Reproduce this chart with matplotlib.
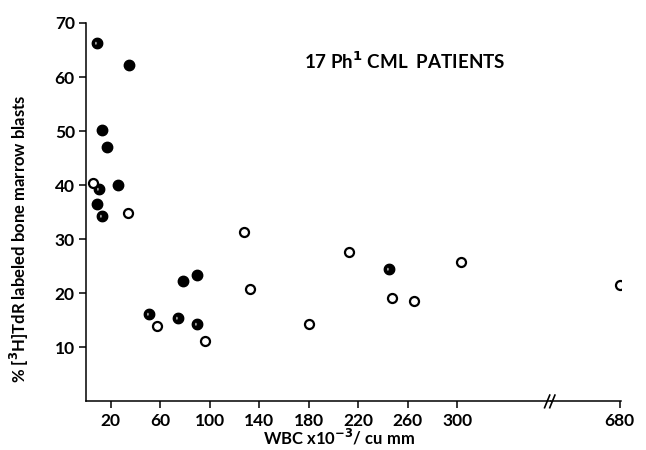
import numpy as np
import matplotlib
matplotlib.use("Agg")
import matplotlib.pyplot as plt
from matplotlib.path import Path

plt.rcParams['font.family'] = ['Lato', 'DejaVu Sans']
plt.rcParams['font.weight'] = 'bold'

# values (WBC x10^-3/cu mm, % labeled blasts)
filled_x = [34.8, 13.3, 16.8, 26.2, 9.2, 78.7, 90.0]
filled_y = [62.2, 50.2, 47.1, 40.0, 36.5, 22.3, 23.3]

half_x = [8.7, 10.6, 12.7, 51.3, 74.7, 90.0, 245.0]
half_y = [66.3, 39.2, 34.3, 16.2, 15.5, 14.4, 24.4]

open_x = [5.7, 34.0, 57.7, 96.0, 127.5, 132.3, 180.3, 212.6, 247.6, 265.4, 302.8, 680.0]
open_y = [40.4, 34.9, 14.0, 11.2, 31.3, 20.7, 14.3, 27.7, 19.2, 18.6, 25.7, 21.5]

xticks_left = [20, 60, 100, 140, 180, 220, 260, 300]
xticks_right = [680]
yticks = [10, 20, 30, 40, 50, 60, 70]

# black disc with a small white spot (partly filled symbol)
t = np.linspace(0, 2 * np.pi, 60)
outer = np.column_stack([np.cos(t), np.sin(t)])
t2 = np.linspace(2 * np.pi, 0, 30)
inner = np.column_stack([-0.3 + 0.25 * np.cos(t2), 0.05 + 0.45 * np.sin(t2)])
verts = np.vstack([outer, inner])
codes = ([Path.MOVETO] + [Path.LINETO] * (len(outer) - 2) + [Path.CLOSEPOLY]
         + [Path.MOVETO] + [Path.LINETO] * (len(inner) - 2) + [Path.CLOSEPOLY])
half_marker = Path(verts, codes)

fig = plt.figure(figsize=(6.46, 4.5), dpi=100)
ax1 = fig.add_axes([0.1331, 0.108, 0.853 - 0.1331, 0.841])
ax2 = fig.add_axes([0.853, 0.108, 0.961 - 0.853, 0.841], sharey=ax1)

for ax in (ax1, ax2):
    ax.plot(filled_x, filled_y, 'o', ms=7.5, color='black', mec='black', ls='none')
    ax.plot(half_x, half_y, marker=half_marker, ms=7.5, color='black', ls='none')
    ax.plot(open_x, open_y, 'o', ms=6.5, mfc='white', mec='black', mew=1.6, ls='none')
    ax.spines['top'].set_visible(False)
    ax.spines['right'].set_visible(False)
    ax.spines['bottom'].set_linewidth(1.1)
    ax.spines['left'].set_linewidth(1.1)
    ax.tick_params(direction='out', length=5, width=1.1, labelsize=12.5, pad=3)

ax1.set_xlim(0, 376)
ax2.set_xlim(625, 681)
ax1.set_ylim(0, 70)
ax1.set_xticks(xticks_left)
ax2.set_xticks(xticks_right)
ax1.set_yticks(yticks)
ax2.spines['left'].set_visible(False)
ax2.tick_params(axis='y', left=False, labelleft=False)

# break marks "//" on the x axis
for dx in (-0.005, 0.003):
    fig.add_artist(plt.Line2D([0.848 + dx, 0.856 + dx], [0.094, 0.122],
                              color='black', lw=1.2, transform=fig.transFigure))

ax1.text(0.468, 0.9, '17 Ph$^{\\mathbf{1}}$ CML  PATIENTS', transform=ax1.transAxes,
         fontsize=13.5, ha='left', va='center')

fig.text(0.525, 0.028, 'WBC x10$^{\\mathbf{-3}}$/ cu mm', ha='center', va='center', fontsize=12)
fig.text(0.03, 0.47, '% [$^{\\mathbf{3}}$H]TdR labeled bone marrow blasts', rotation=90,
         ha='center', va='center', fontsize=12)

fig.savefig('out.png', dpi=100)
